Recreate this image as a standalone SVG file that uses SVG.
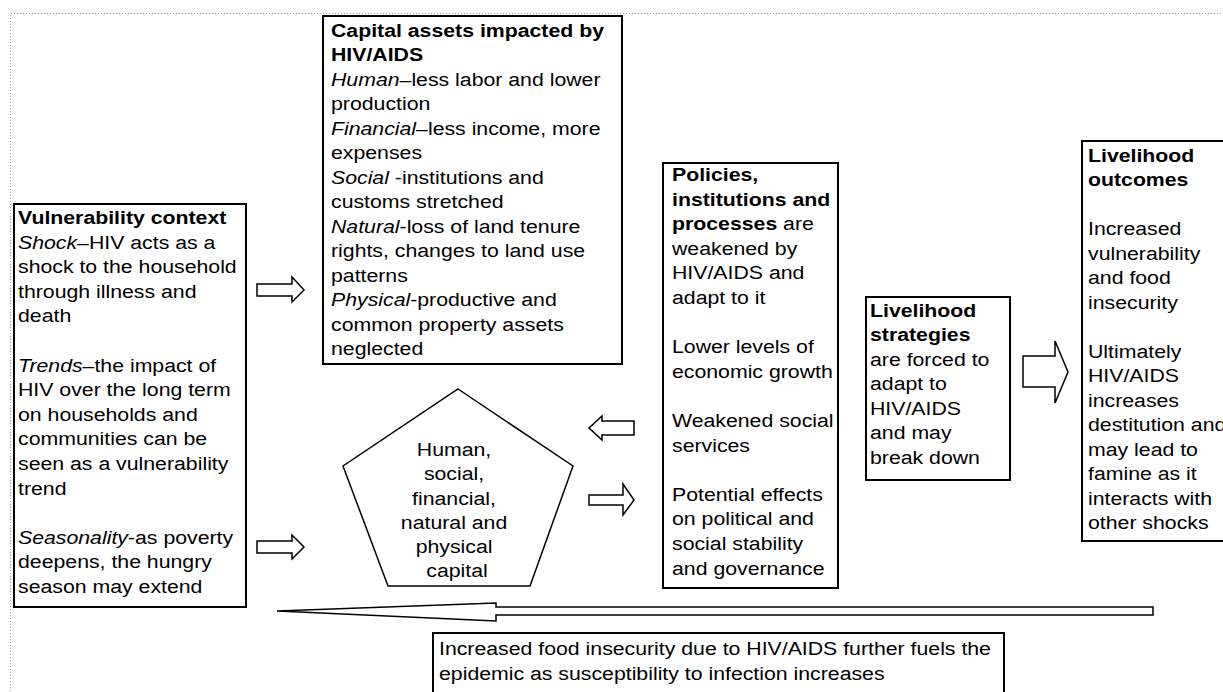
<svg xmlns="http://www.w3.org/2000/svg" width="1223" height="692" viewBox="0 0 1223 692">
<defs>
<style>
.frame{fill:none;stroke:#9a9a9a;stroke-width:1;stroke-dasharray:1 2}
.box{fill:#fff;stroke:#000;stroke-width:2}
.arr{fill:#fff;stroke:#000;stroke-width:1.5;stroke-linejoin:miter}
.t{font-family:"Liberation Sans",Arial,sans-serif;font-size:19px;fill:#000}
.b{font-weight:bold}
.i{font-style:italic}
</style>
</defs>
<rect width="1223" height="692" fill="#fff"/>
<path class="frame" d="M10.5,700 V13.5 H1230"/>

<g id="connectors">
<polygon class="arr" points="257,284 292,284 292,277 304,290 292,302 292,296 257,296"/>
<polygon class="arr" points="257,541 292,541 292,535 304,547 292,559 292,553 257,553"/>
<polygon class="arr" points="589,428 602,416 602,421 634,421 634,435 602,435 602,440"/>
<polygon class="arr" points="589,495 623,495 623,484 634,500 623,515 623,505 589,505"/>
<polygon class="arr" points="1023,356 1055,356 1055,341 1068,372 1055,403 1055,387 1023,387"/>
<polygon class="arr" points="277,611 496,603 496,607 1153,607 1153,615 496,615 496,621"/>
</g>

<g id="vulnerability">
<rect class="box" x="14" y="204" width="232" height="403"/>
<text class="t" transform="translate(18,224) scale(1.12,1)">
<tspan x="0" dy="0" class="b">Vulnerability context</tspan>
<tspan x="0" dy="24.6"><tspan class="i">Shock</tspan>–HIV acts as a</tspan>
<tspan x="0" dy="24.6">shock to the household</tspan>
<tspan x="0" dy="24.6">through illness and</tspan>
<tspan x="0" dy="24.6">death</tspan>
<tspan x="0" dy="49.2"><tspan class="i">Trends</tspan>–the impact of</tspan>
<tspan x="0" dy="24.6">HIV over the long term</tspan>
<tspan x="0" dy="24.6">on households and</tspan>
<tspan x="0" dy="24.6">communities can be</tspan>
<tspan x="0" dy="24.6">seen as a vulnerability</tspan>
<tspan x="0" dy="24.6">trend</tspan>
<tspan x="0" dy="49.2"><tspan class="i">Seasonality</tspan>-as poverty</tspan>
<tspan x="0" dy="24.6">deepens, the hungry</tspan>
<tspan x="0" dy="24.6">season may extend</tspan>
</text>
</g>

<g id="capital-assets">
<rect class="box" x="323" y="16" width="299" height="348"/>
<text class="t" transform="translate(331,37) scale(1.12,1)">
<tspan x="0" dy="0" class="b">Capital assets impacted by</tspan>
<tspan x="0" dy="24.5" class="b">HIV/AIDS</tspan>
<tspan x="0" dy="24.5"><tspan class="i">Human</tspan>–less labor and lower</tspan>
<tspan x="0" dy="24.5">production</tspan>
<tspan x="0" dy="24.5"><tspan class="i">Financial</tspan>–less income, more</tspan>
<tspan x="0" dy="24.5">expenses</tspan>
<tspan x="0" dy="24.5"><tspan class="i">Social</tspan> -institutions and</tspan>
<tspan x="0" dy="24.5">customs stretched</tspan>
<tspan x="0" dy="24.5"><tspan class="i">Natural</tspan>-loss of land tenure</tspan>
<tspan x="0" dy="24.5">rights, changes to land use</tspan>
<tspan x="0" dy="24.5">patterns</tspan>
<tspan x="0" dy="24.5"><tspan class="i">Physical</tspan>-productive and</tspan>
<tspan x="0" dy="24.5">common property assets</tspan>
<tspan x="0" dy="24.5">neglected</tspan>
</text>
</g>

<g id="capital-pentagon">
<polygon class="box" style="stroke-width:1.5" points="458,389 573,466 530,586 388,586 343,466"/>
<text class="t" text-anchor="middle" transform="translate(457,456) scale(1.12,1)">
<tspan x="0" dy="0">Human,</tspan>
<tspan x="0" dy="24.3">social,</tspan>
<tspan x="0" dy="24.3">financial,</tspan>
<tspan x="0" dy="24.3">natural and</tspan>
<tspan x="0" dy="24.3">physical</tspan>
<tspan x="0" dy="24.3">capital</tspan>
</text>
</g>

<g id="policies">
<rect class="box" x="663" y="163" width="175" height="425"/>
<text class="t" transform="translate(672,181) scale(1.12,1)">
<tspan x="0" dy="0" class="b">Policies,</tspan>
<tspan x="0" dy="24.6" class="b">institutions and</tspan>
<tspan x="0" dy="24.6"><tspan class="b">processes</tspan> are</tspan>
<tspan x="0" dy="24.6">weakened by</tspan>
<tspan x="0" dy="24.6">HIV/AIDS and</tspan>
<tspan x="0" dy="24.6">adapt to it</tspan>
<tspan x="0" dy="49.2">Lower levels of</tspan>
<tspan x="0" dy="24.6">economic growth</tspan>
<tspan x="0" dy="49.2">Weakened social</tspan>
<tspan x="0" dy="24.6">services</tspan>
<tspan x="0" dy="49.2">Potential effects</tspan>
<tspan x="0" dy="24.6">on political and</tspan>
<tspan x="0" dy="24.6">social stability</tspan>
<tspan x="0" dy="24.6">and governance</tspan>
</text>
</g>

<g id="strategies">
<rect class="box" x="866" y="297" width="144" height="183"/>
<text class="t" transform="translate(870,317) scale(1.12,1)">
<tspan x="0" dy="0" class="b">Livelihood</tspan>
<tspan x="0" dy="24.5" class="b">strategies</tspan>
<tspan x="0" dy="24.5">are forced to</tspan>
<tspan x="0" dy="24.5">adapt to</tspan>
<tspan x="0" dy="24.5">HIV/AIDS</tspan>
<tspan x="0" dy="24.5">and may</tspan>
<tspan x="0" dy="24.5">break down</tspan>
</text>
</g>

<g id="outcomes">
<rect class="box" x="1082" y="141" width="160" height="400"/>
<text class="t" transform="translate(1088,162) scale(1.12,1)">
<tspan x="0" dy="0" class="b">Livelihood</tspan>
<tspan x="0" dy="24.5" class="b">outcomes</tspan>
<tspan x="0" dy="49">Increased</tspan>
<tspan x="0" dy="24.5">vulnerability</tspan>
<tspan x="0" dy="24.5">and food</tspan>
<tspan x="0" dy="24.5">insecurity</tspan>
<tspan x="0" dy="49">Ultimately</tspan>
<tspan x="0" dy="24.5">HIV/AIDS</tspan>
<tspan x="0" dy="24.5">increases</tspan>
<tspan x="0" dy="24.5">destitution and</tspan>
<tspan x="0" dy="24.5">may lead to</tspan>
<tspan x="0" dy="24.5">famine as it</tspan>
<tspan x="0" dy="24.5">interacts with</tspan>
<tspan x="0" dy="24.5">other shocks</tspan>
</text>
</g>

<g id="feedback">
<rect class="box" x="433" y="633" width="571" height="70"/>
<text class="t" transform="translate(439,655) scale(1.12,1)">
<tspan x="0" dy="0">Increased food insecurity due to HIV/AIDS further fuels the</tspan>
<tspan x="0" dy="25">epidemic as susceptibility to infection increases</tspan>
</text>
</g>
</svg>
